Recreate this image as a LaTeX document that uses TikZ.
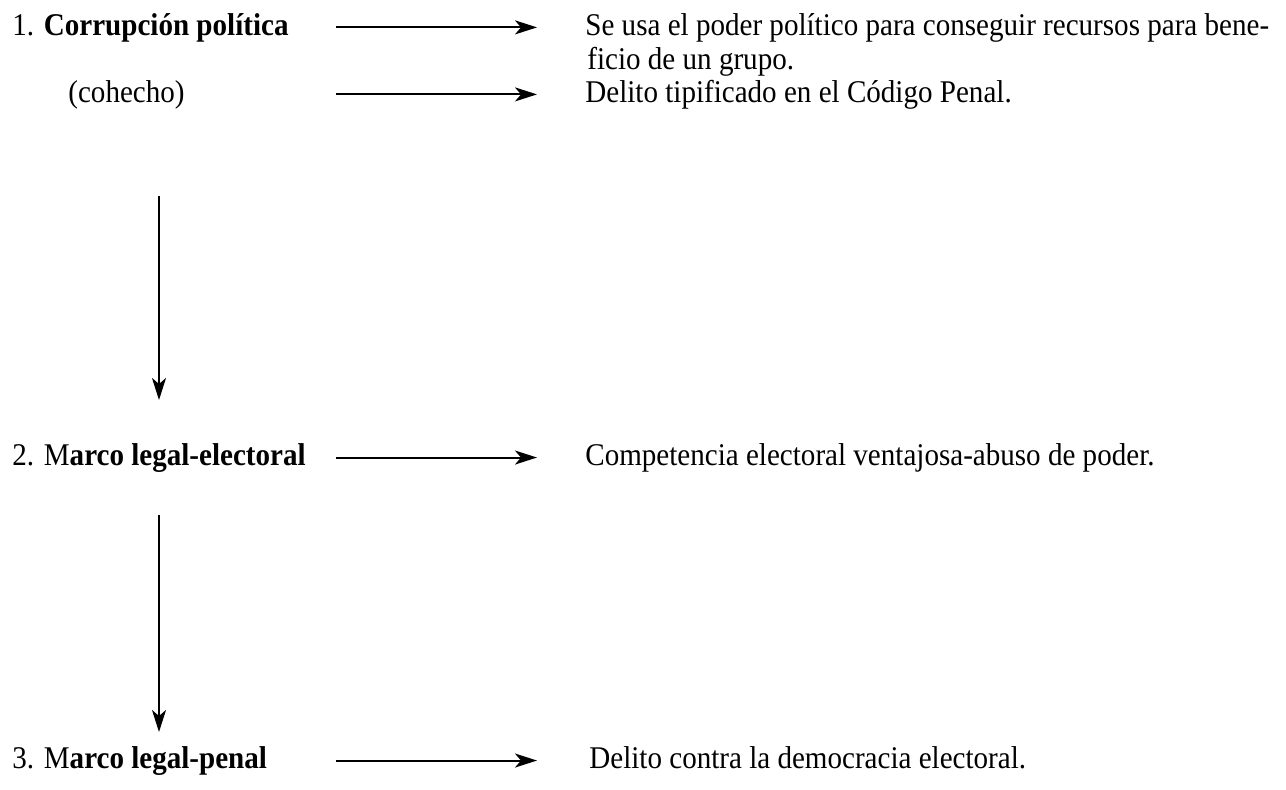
\documentclass[tikz,border=0pt]{standalone}
\usepackage{fontspec}
\setmainfont{Liberation Serif}[FakeStretch=0.92]
\usetikzlibrary{arrows.meta}

\begin{document}
\begin{tikzpicture}[x=0.5pt,y=-0.5pt,
  txt/.style={anchor=base west, inner sep=0pt, font=\fontsize{15.8}{19}\selectfont},
  link/.style={line width=1pt, -{Stealth[length=11pt, width=7pt, inset=3pt]}}]
 \useasboundingbox (0,0) rectangle (1286,789);
 \coordinate (s) at (336,0);
 \coordinate (e) at (537,0);
 \coordinate (v1) at (159,196);
 \coordinate (w1) at (159,400);
 \coordinate (v2) at (159,515);
 \coordinate (w2) at (159,732);

 \node[txt] (a1) at (12,35) {1. \textbf{Corrupción política}};
 \node[txt] (a2) at (68,102) {(cohecho)};
 \node[txt] (a3) at (12,465) {2. M\textbf{arco legal-electoral}};
 \node[txt] (a4) at (12,768) {3. M\textbf{arco legal-penal}};

 \node[txt] (b1) at (585,35) {Se usa el poder político para conseguir recursos para bene-};
 \node[txt] (b1x) at (587,69) {ficio de un grupo.};
 \node[txt] (b2) at (585,102) {Delito tipificado en el Código Penal.};
 \node[txt] (b3) at (585,465) {Competencia electoral ventajosa-abuso de poder.};
 \node[txt] (b4) at (589,768) {Delito contra la democracia electoral.};

 \draw[link] (a1 -| s) -- (a1 -| e);
 \draw[link] (a2 -| s) -- (a2 -| e);
 \draw[link] (a3 -| s) -- (a3 -| e);
 \draw[link] (a4 -| s) -- (a4 -| e);
 \draw[link] (v1) -- (w1);
 \draw[link] (v2) -- (w2);
\end{tikzpicture}
\end{document}
